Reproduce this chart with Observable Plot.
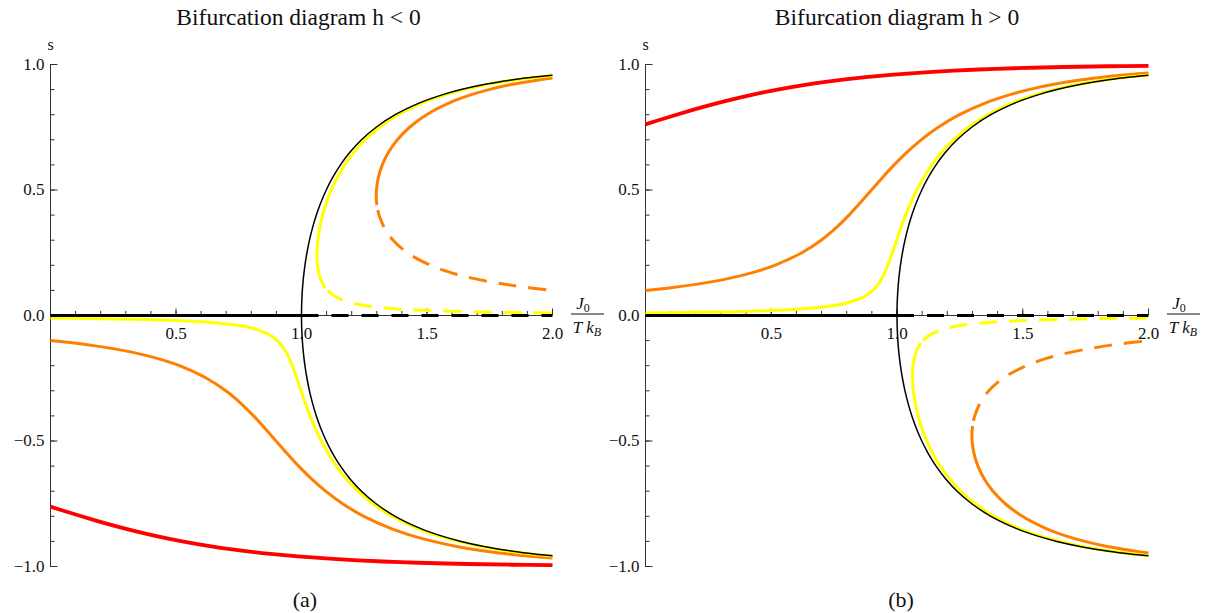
<!DOCTYPE html>
<html><head><meta charset="utf-8">
<script src="https://cdn.jsdelivr.net/npm/d3@7"></script>
<script src="https://cdn.jsdelivr.net/npm/@observablehq/plot@0.6"></script>
<style>
body{margin:0;background:#fff;font-family:"Liberation Serif","Times New Roman",serif;}
#wrap{display:flex;width:1212px;height:613px;overflow:hidden}
.panel{width:606px;flex:none}
.title{height:34px;line-height:34px;font-size:23.5px;text-align:center;white-space:nowrap;color:#111}
.cap{height:27px;line-height:27px;font-size:22px;text-align:center;color:#111}
svg{display:block;overflow:visible}
svg text{font-family:"Liberation Serif","Times New Roman",serif !important;}
</style></head><body>
<div id="wrap">
  <div class="panel" id="pa"><div class="title" style="padding-right:9px">Bifurcation diagram h &lt; 0</div><div id="sa"></div><div class="cap" style="padding-left:4px">(a)</div></div>
  <div class="panel" id="pb"><div class="title" style="padding-right:24px">Bifurcation diagram h &gt; 0</div><div id="sb"></div><div class="cap" style="padding-right:16px">(b)</div></div>
</div>
<script>
// ---- data: [J0/(T kB), s] read from the h > 0 panel; the h < 0 panel is its mirror image ----
const blackZeroSolid = [[0, 0], [1, 0]];
const blackZeroDashed = [[1, 0], [2, 0]];
const blackBranch = [[1,0],[1.00003,0.01],[1.00083,0.05],[1.00335,0.1],[1.0076,0.15],[1.01366,0.2],[1.02165,0.25],[1.03173,0.3],[1.04413,0.35],[1.05912,0.4],[1.07711,0.45],[1.09861,0.5],[1.12433,0.55],[1.15525,0.6],[1.19277,0.65],[1.239,0.7],[1.29727,0.75],[1.37327,0.8],[1.47783,0.85],[1.56338,0.88],[1.6358,0.9],[1.7272,0.92],[1.84899,0.94],[1.92819,0.95],[2.0,0.9575]];

const yellowUpper = [[0,0.01],[0.0909,0.011],[0.2,0.0125],[0.333,0.015],[0.5,0.02],[0.6,0.025],[0.667,0.03],[0.7505,0.04],[0.8008,0.05],[0.8588,0.07],[0.8771,0.08],[0.9034,0.1],[0.9215,0.12],[0.9409,0.15],[0.9637,0.2],[0.9817,0.25],[0.9984,0.3],[1.0156,0.35],[1.0341,0.4],[1.0549,0.45],[1.0786,0.5],[1.1062,0.55],[1.1386,0.6],[1.1774,0.65],[1.2247,0.7],[1.2839,0.75],[1.3608,0.8],[1.4661,0.85],[1.552,0.88],[1.6247,0.9],[1.7163,0.92],[1.8384,0.94],[1.9177,0.95],[2.0,0.9585]];
const yellowLowerSolid = [[1.095,-0.11],[1.0882,-0.12],[1.0743,-0.15],[1.0637,-0.2],[1.0617,-0.25],[1.0651,-0.3],[1.0727,-0.35],[1.0841,-0.4],[1.0993,-0.45],[1.1186,-0.5],[1.1425,-0.55],[1.1719,-0.6],[1.2082,-0.65],[1.2533,-0.7],[1.3106,-0.75],[1.3858,-0.8],[1.4896,-0.85],[1.5747,-0.88],[1.6469,-0.9],[1.7381,-0.92],[1.8596,-0.94],[1.9387,-0.95],[2.0,-0.9565]];
const yellowLowerDashed = [[1.1034,-0.1],[1.1271,-0.08],[1.1679,-0.06],[1.2008,-0.05],[1.2505,-0.04],[1.3336,-0.03],[1.4002,-0.025],[1.5001,-0.02],[1.6668,-0.015],[1.8001,-0.0125],[1.9092,-0.011],[2.0,-0.01]];

const orangeUpper = [[0,0.0997],[0.095,0.11],[0.1715,0.12],[0.2365,0.13],[0.3409,0.15],[0.4216,0.17],[0.5137,0.2],[0.6217,0.25],[0.6984,0.3],[0.7584,0.35],[0.8091,0.4],[0.8549,0.45],[0.8986,0.5],[0.9425,0.55],[0.9886,0.6],[1.0389,0.65],[1.0961,0.7],[1.1639,0.75],[1.2483,0.8],[1.3602,0.85],[1.4497,0.88],[1.5247,0.9],[1.6185,0.92],[1.7426,0.94],[1.8229,0.95],[1.9228,0.96],[2.0,0.9663]];
const orangeLowerSolid = [[1.3005,-0.44],[1.2993,-0.45],[1.298,-0.47],[1.2986,-0.5],[1.3062,-0.55],[1.3219,-0.6],[1.3466,-0.65],[1.3819,-0.7],[1.4306,-0.75],[1.4983,-0.8],[1.5955,-0.85],[1.677,-0.88],[1.7469,-0.9],[1.8359,-0.92],[1.9554,-0.94],[2.0,-0.946]];
const orangeLowerDashed = [[1.304,-0.42],[1.3091,-0.4],[1.3298,-0.35],[1.3651,-0.3],[1.4217,-0.25],[1.5137,-0.2],[1.598,-0.17],[1.6743,-0.15],[1.7749,-0.13],[1.8382,-0.12],[1.9132,-0.11],[2.0,-0.1003]];

const redUpper = [[0,0.7616],[0.0582,0.78],[0.1233,0.8],[0.1912,0.82],[0.2633,0.84],[0.3411,0.86],[0.427,0.88],[0.5247,0.9],[0.6403,0.92],[0.708,0.93],[0.7852,0.94],[0.8756,0.95],[0.9853,0.96],[1.1261,0.97],[1.324,0.98],[1.4646,0.985],[1.6633,0.99],[1.8386,0.993],[2.0,0.9949]];

// ---- ticks ----
const xTickValues = [0.5, 1.0, 1.5, 2.0];
const xTickLabels = ["0.5", "1.0", "1.5", "2.0"];
const yTickValues = [-1, -0.5, 0, 0.5, 1];
const yTickLabels = ["\u22121.0", "\u22120.5", "0.0", "0.5", "1.0"];
const xMinor = d3.range(1, 20).map(i => i / 10);
const yMinor = d3.range(-10, 11).map(i => i / 10);

const YELLOW = "#ffff00", ORANGE = "#ff8000", RED = "#ff0000", AXIS = "#333";
const SERIF = "'Liberation Serif', 'Times New Roman', serif";
const mirror = c => c.map(([k, s]) => [k, -s]);

function panel(sign, marginLeft, marginRight) {
  const m = sign > 0 ? (c => c) : mirror;
  const L = (data, o) => Plot.line(m(data), {x: d => d[0], y: d => d[1], curve: "catmull-rom", strokeLinecap: "butt", ...o});
  const svg = Plot.plot({
    width: 606, height: 552,
    marginTop: 30, marginBottom: 20, marginLeft, marginRight,
    x: {domain: [0, 2], axis: null},
    y: {domain: [-1, 1], axis: null},
    style: {fontFamily: SERIF, fontSize: "17px", background: "white", overflow: "visible", color: "#111"},
    marks: [
      Plot.ruleY([0], {x1: 0, x2: 2, stroke: AXIS, strokeWidth: 1}),
      Plot.ruleX([0], {y1: -1, y2: 1, stroke: AXIS, strokeWidth: 1}),
      Plot.ruleX(xMinor, {x: d => d, y1: 0, y2: 0.016, stroke: AXIS}),
      Plot.ruleX(xTickValues, {x: d => d, y1: 0, y2: 0.026, stroke: AXIS}),
      Plot.ruleY(yMinor, {y: d => d, x1: 0, x2: 0.018, stroke: AXIS}),
      Plot.ruleY(yTickValues, {y: d => d, x1: 0, x2: 0.03, stroke: AXIS}),
      Plot.text(yTickValues, {x: 0, y: d => d, text: (d, i) => yTickLabels[i], textAnchor: "end", dx: -6, fill: "#111"}),
      Plot.text(xTickValues, {x: d => d, y: 0, text: (d, i) => xTickLabels[i], dy: 18, fill: "#111"}),
      Plot.text(["s"], {x: 0, y: 1, dy: -20, fontSize: 16, fill: "#111"}),
      L(redUpper, {stroke: RED, strokeWidth: 3.8}),
      L(orangeUpper, {stroke: ORANGE, strokeWidth: 3}),
      L(orangeLowerSolid, {stroke: ORANGE, strokeWidth: 3}),
      L(orangeLowerDashed, {stroke: ORANGE, strokeWidth: 3, strokeDasharray: "18,12"}),
      L(yellowUpper, {stroke: YELLOW, strokeWidth: 3}),
      L(yellowLowerSolid, {stroke: YELLOW, strokeWidth: 3}),
      L(yellowLowerDashed, {stroke: YELLOW, strokeWidth: 3, strokeDasharray: "18,12"}),
      L(blackBranch, {stroke: "#000", strokeWidth: 1.5}),
      L(mirror(blackBranch), {stroke: "#000", strokeWidth: 1.5}),
      L(blackZeroSolid, {stroke: "#000", strokeWidth: 3}),
      L(blackZeroDashed, {stroke: "#000", strokeWidth: 3, strokeDasharray: "17,13"})
    ]
  });
  // axis label J0 / (T kB) as a fraction
  const x0 = svg.scale("x").apply(2), y0 = svg.scale("y").apply(0);
  const g = d3.select(svg).append("g").attr("font-size", 17).attr("fill", "#111");
  const t1 = g.append("text").attr("x", x0 + 31).attr("y", y0 - 6).attr("text-anchor", "middle");
  t1.append("tspan").attr("font-style", "italic").text("J");
  t1.append("tspan").attr("font-size", 12).attr("dy", 3).text("0");
  g.append("line").attr("x1", x0 + 19).attr("x2", x0 + 52).attr("y1", y0 - 1).attr("y2", y0 - 1).attr("stroke", "#111").attr("stroke-width", 1);
  const t2 = g.append("text").attr("x", x0 + 35).attr("y", y0 + 18).attr("text-anchor", "middle").attr("font-style", "italic");
  t2.append("tspan").text("T k");
  t2.append("tspan").attr("font-size", 12).attr("dy", 3).text("B");
  return svg;
}

document.getElementById("sa").appendChild(panel(-1, 50, 54));
document.getElementById("sb").appendChild(panel(1, 39, 64));
</script></body></html>
